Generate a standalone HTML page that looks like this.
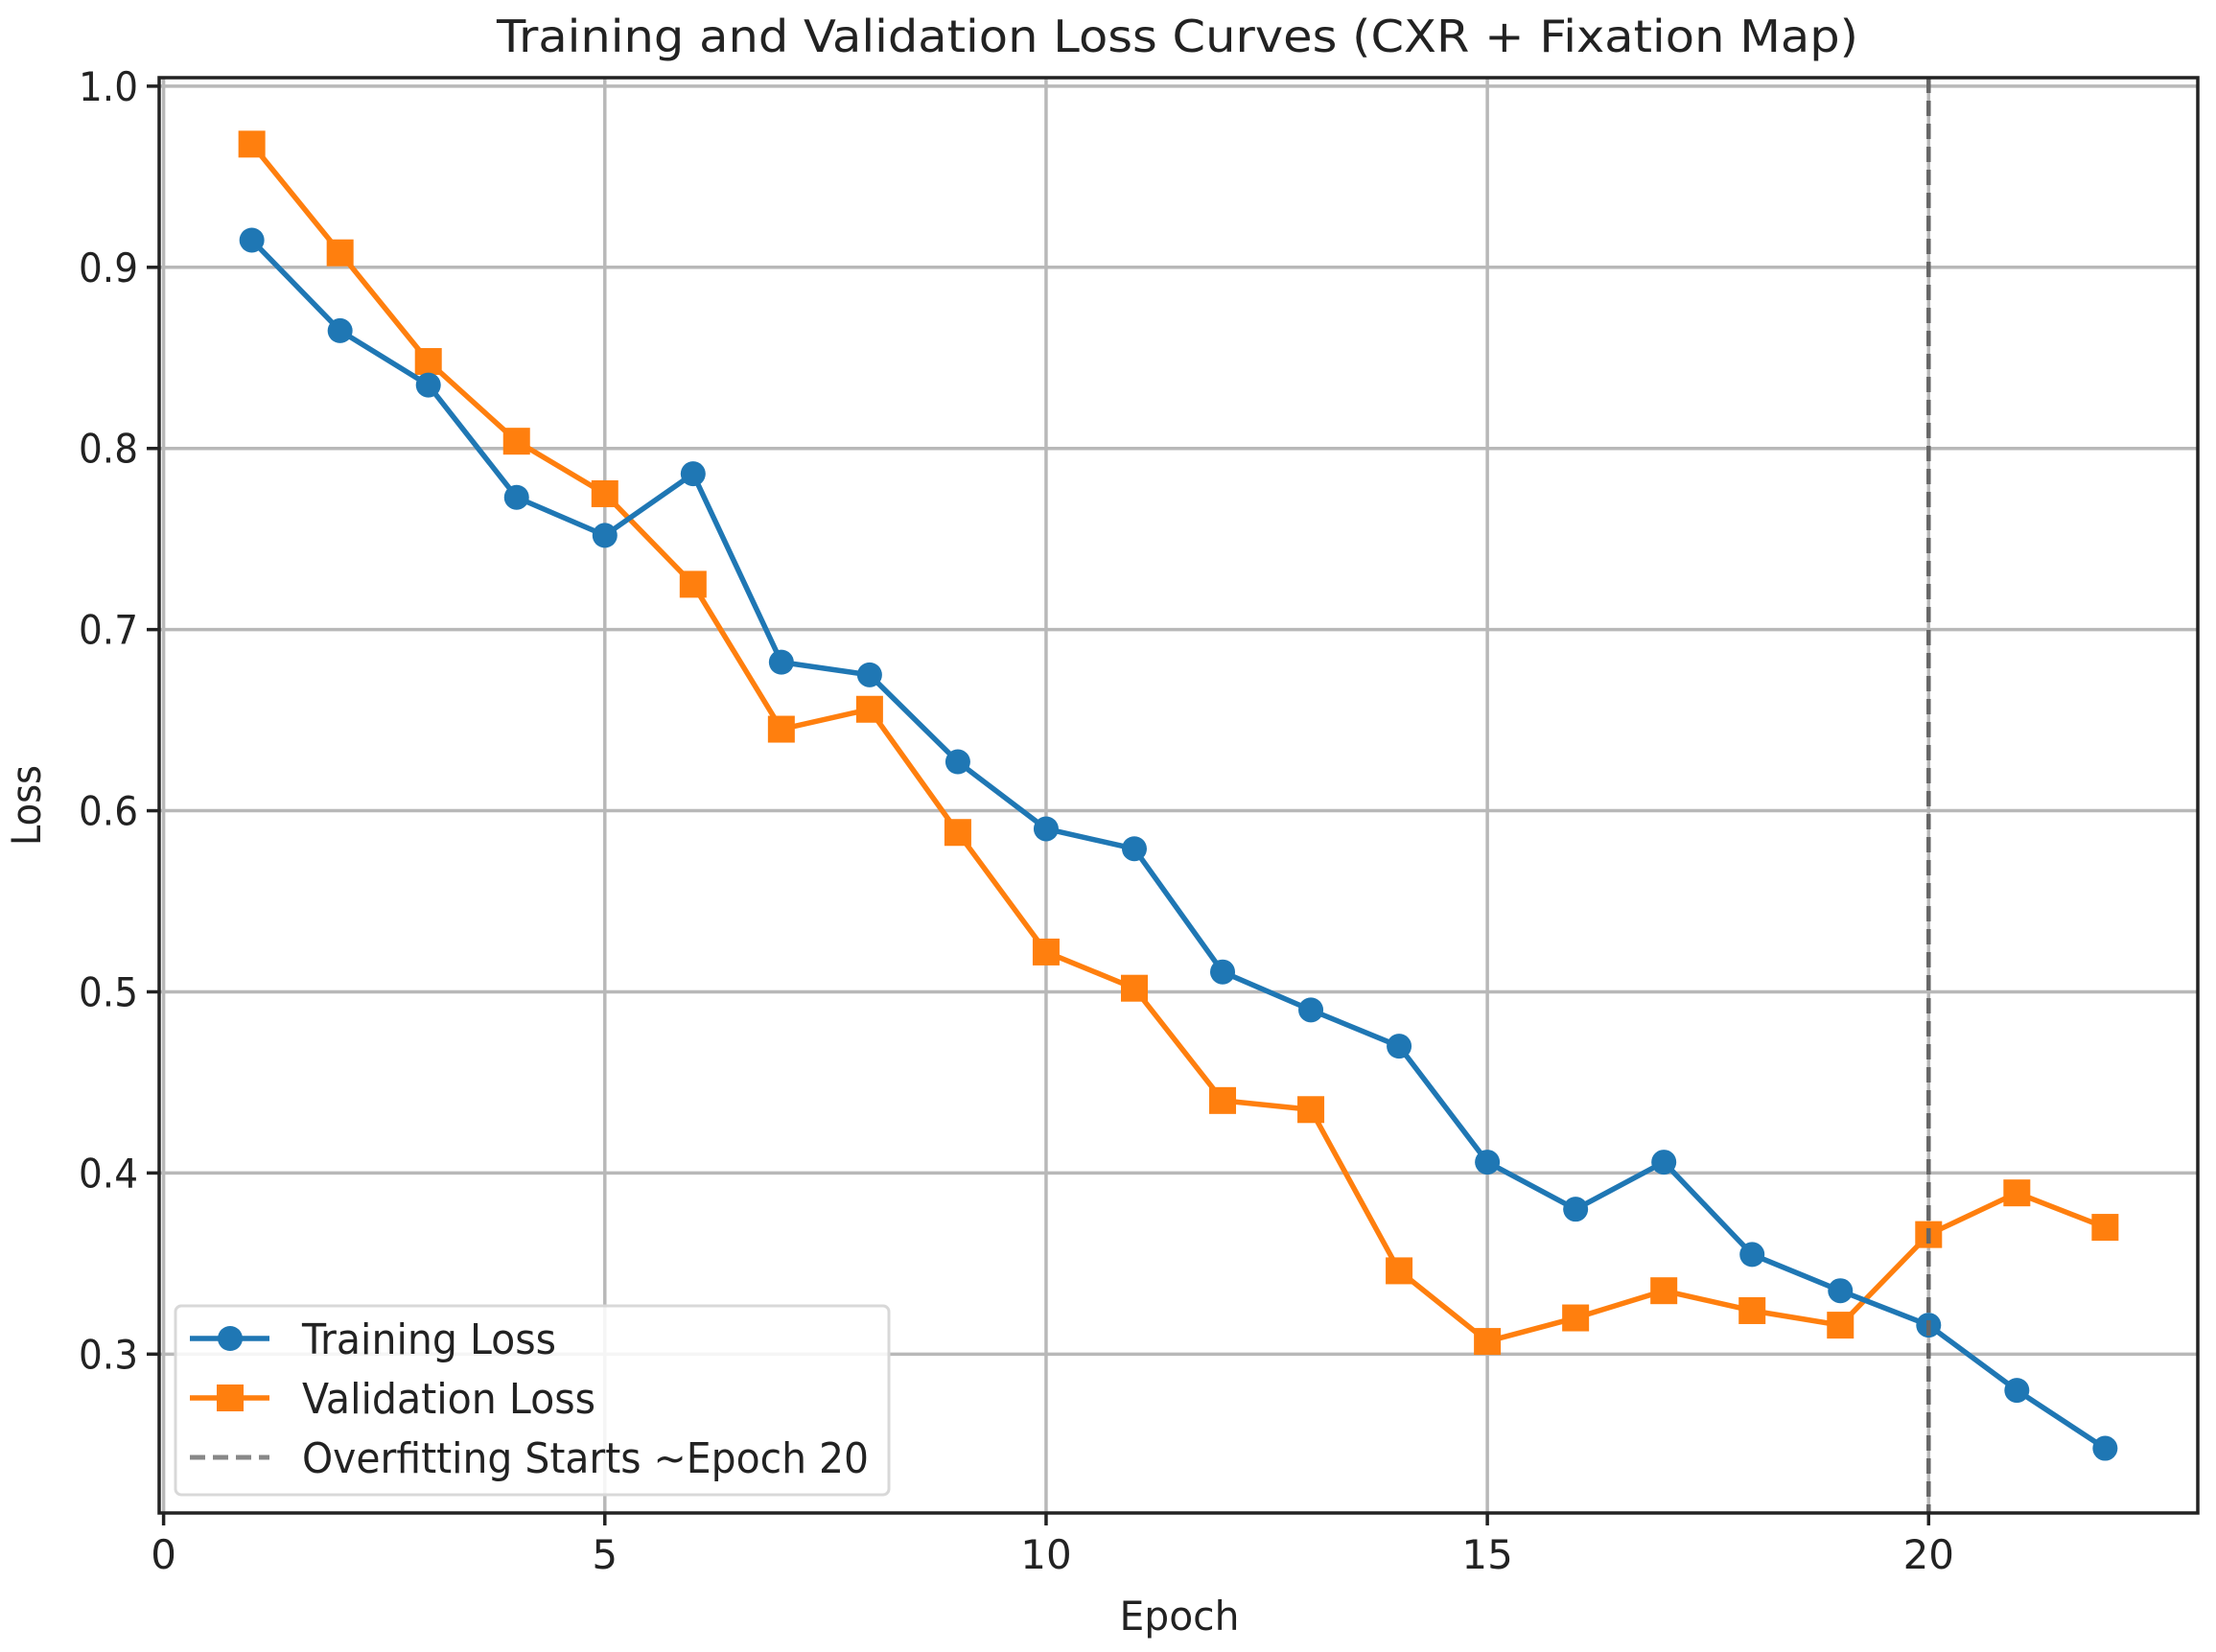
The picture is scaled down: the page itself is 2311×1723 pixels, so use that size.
<!DOCTYPE html>
<html><head><meta charset="utf-8"><style>
html,body{margin:0;padding:0;background:#fff;}
svg{display:block;font-family:"DejaVu Sans","Liberation Sans",sans-serif;}
</style></head><body>
<svg id="chart" width="2311" height="1723" viewBox="0 0 2311 1723" xmlns="http://www.w3.org/2000/svg">
<rect width="2311" height="1723" fill="#fff"/>
<text x="1228" y="54" text-anchor="middle" font-size="46" fill="#222" textLength="1420" lengthAdjust="spacingAndGlyphs">Training and Validation Loss Curves (CXR + Fixation Map)</text>
<g id="grid"></g>
<g id="series"></g>
<rect x="166" y="81" width="2126" height="1497" fill="none" stroke="#222" stroke-width="3.5"/>
<g id="ticks"></g>
<text x="1230" y="1700" text-anchor="middle" font-size="42" fill="#222" textLength="125" lengthAdjust="spacingAndGlyphs">Epoch</text>
<text transform="translate(42,840) rotate(-90)" text-anchor="middle" font-size="42" fill="#222" textLength="84" lengthAdjust="spacingAndGlyphs">Loss</text>
<g>
<rect x="183" y="1362" width="744" height="197" rx="6" fill="#fff" fill-opacity="0.85" stroke="#d8d8d8" stroke-width="3"/>
<g>
<line x1="198" y1="1396" x2="281" y2="1396" stroke="#1f77b4" stroke-width="5.5"/>
<circle cx="240" cy="1396" r="13" fill="#1f77b4"/>
<text x="315" y="1412" font-size="44" fill="#222" textLength="265" lengthAdjust="spacingAndGlyphs">Training Loss</text>
</g>
<g>
<line x1="198" y1="1458" x2="281" y2="1458" stroke="#ff7f0e" stroke-width="5.5"/>
<rect x="226" y="1444" width="28" height="28" fill="#ff7f0e"/>
<text x="315" y="1474" font-size="44" fill="#222" textLength="306" lengthAdjust="spacingAndGlyphs">Validation Loss</text>
</g>
<g>
<line x1="198" y1="1520" x2="281" y2="1520" stroke="#888" stroke-width="5" stroke-dasharray="16,8"/>
<text x="315" y="1536" font-size="44" fill="#222" textLength="591" lengthAdjust="spacingAndGlyphs">Overfitting Starts ~Epoch 20</text>
</g>
</g>
</svg>
<script>
const epochs = [1,2,3,4,5,6,7,8,9,10,11,12,13,14,15,16,17,18,19,20,21,22];
const trainLoss = [0.915,0.865,0.835,0.773,0.752,0.786,0.682,0.675,0.627,0.590,0.579,0.511,0.490,0.470,0.406,0.380,0.406,0.355,0.335,0.316,0.280,0.248];
const valLoss = [0.968,0.908,0.848,0.804,0.775,0.725,0.645,0.656,0.588,0.522,0.502,0.440,0.435,0.346,0.307,0.320,0.335,0.324,0.316,0.366,0.389,0.370];
const xTicks = [0,5,10,15,20];
const yTicks = [0.3,0.4,0.5,0.6,0.7,0.8,0.9,1.0];
const yTickLabels = ["0.3","0.4","0.5","0.6","0.7","0.8","0.9","1.0"];
const overfitEpoch = [20];

const NS="http://www.w3.org/2000/svg";
const L=166,R=2292,T=81,B=1578;
const xMin=-0.05,xMax=23.05,yMin=0.2123,yMax=1.0047;
function sx(v){return L+(v-xMin)/(xMax-xMin)*(R-L);}
function sy(v){return B-(v-yMin)/(yMax-yMin)*(B-T);}
function mk(tag,attrs,parent){const e=document.createElementNS(NS,tag);for(const k in attrs)e.setAttribute(k,attrs[k]);parent.appendChild(e);return e;}
const grid=document.getElementById('grid'),ticks=document.getElementById('ticks'),series=document.getElementById('series');

xTicks.forEach(t=>{
  const x=sx(t);
  const g=mk('line',{x1:x,y1:T,x2:x,y2:B,stroke:'#b8b8b8','stroke-width':3.5},grid);
  
  
  const tk=mk('line',{x1:x,y1:B,x2:x,y2:B+13,stroke:'#222','stroke-width':3.5},ticks);
  
  
  const lb=mk('text',{x:x,y:B+58,'text-anchor':'middle','font-size':42,fill:'#222'},ticks);
  
  
  lb.textContent=String(t);
});
yTicks.forEach((t,i)=>{
  const y=sy(t);
  const g=mk('line',{x1:L,y1:y,x2:R,y2:y,stroke:'#b8b8b8','stroke-width':3.5},grid);
  
  
  const tk=mk('line',{x1:L-13,y1:y,x2:L,y2:y,stroke:'#222','stroke-width':3.5},ticks);
  
  
  const lb=mk('text',{x:L-22,y:y+15,'text-anchor':'end','font-size':42,fill:'#222',textLength:62,lengthAdjust:'spacingAndGlyphs'},ticks);
  
  
  lb.textContent=yTickLabels[i];
});

function drawSeries(vals,color,shape,name){
  const pts=epochs.map((e,i)=>sx(e)+','+sy(vals[i])).join(' ');
  const pl=mk('polyline',{points:pts,fill:'none',stroke:color,'stroke-width':5.5,'stroke-linejoin':'round'},series);
  
  
  epochs.forEach((e,i)=>{
    let m;
    if(shape==='circle') m=mk('circle',{cx:sx(e),cy:sy(vals[i]),r:13,fill:color},series);
    else m=mk('rect',{x:sx(e)-14,y:sy(vals[i])-14,width:28,height:28,fill:color},series);
    
    
  });
}
drawSeries(valLoss,'#ff7f0e','square','validation-loss');
drawSeries(trainLoss,'#1f77b4','circle','training-loss');

overfitEpoch.forEach(e=>{
  const v=mk('line',{x1:sx(e),y1:T,x2:sx(e),y2:B,stroke:'#666','stroke-width':4.5,'stroke-dasharray':'16,8'},series);
  
  
});
</script>
</body></html>
